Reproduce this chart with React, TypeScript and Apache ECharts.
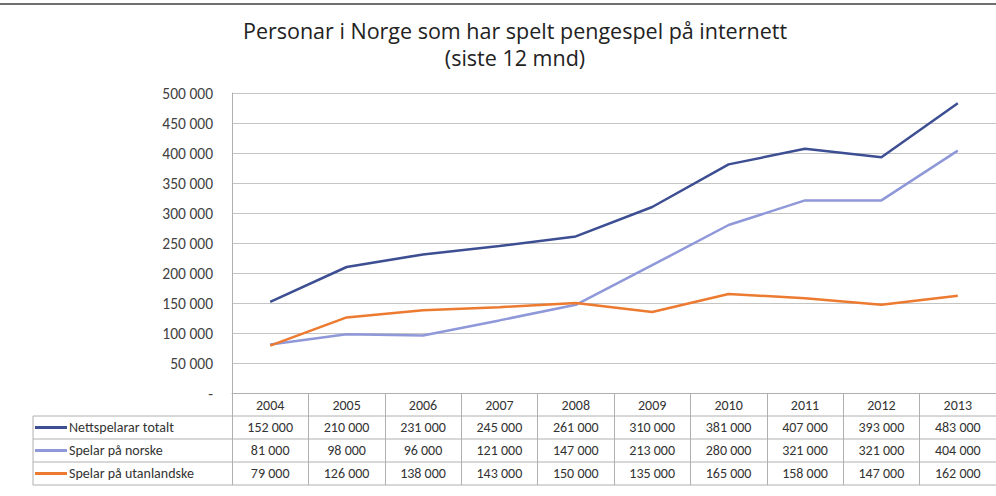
import React, { useEffect, useRef } from "react";
import * as echarts from "echarts";

const years = ["2004", "2005", "2006", "2007", "2008", "2009", "2010", "2011", "2012", "2013"];
const totalt = [152000, 210000, 231000, 245000, 261000, 310000, 381000, 407000, 393000, 483000];
const norske = [81000, 98000, 96000, 121000, 147000, 213000, 280000, 321000, 321000, 404000];
const utanlandske = [79000, 126000, 138000, 143000, 150000, 135000, 165000, 158000, 147000, 162000];
const seriesNames = ["Nettspelarar totalt", "Spelar på norske", "Spelar på utanlandske"];
const titleLines = ["Personar i Norge som har spelt pengespel på internett", "(siste 12 mnd)"];

const FONT = "Carlito, Lato, 'Liberation Sans', sans-serif";
const TITLE_FONT = "'Open Sans', Lato, sans-serif";
const COLORS = ["#3d4f92", "#8f98d8", "#ec7a30"];
const GRID_LEFT = 232;
const GRID_TOP = 93;
const GRID_W = 778;
const GRID_H = 300;
const ROW_H = 23;
const LEG_LEFT = 35;
const ICON_H = 3;
const LEG_TEXT_H = 14;

const fmt = (v: number) =>
  v === 0 ? "-" : String(v).replace(/\B(?=(\d{3})+(?!\d))/g, " ");

export default function App() {
  const ref = useRef<HTMLDivElement>(null);
  useEffect(() => {
    document.body.style.margin = "0";
    const chart = echarts.init(ref.current!, undefined, { renderer: "svg" });
    const rows = [totalt, norske, utanlandske];
    const bottom = GRID_TOP + GRID_H;
    const tableRight = GRID_LEFT + GRID_W;

    const extraAxes = rows.map((r, i) => ({
      type: "category",
      data: r.map(fmt),
      position: "bottom",
      offset: ROW_H * (i + 1),
      boundaryGap: true,
      axisLine: { show: false },
      axisTick: { show: false },
      splitLine: { show: false },
      axisLabel: {
        interval: 0,
        margin: 4,
        fontSize: 14,
        color: "#333",
        fontFamily: FONT,
      },
    }));

    const hLines = [1, 2, 3, 4].map((k) => ({
      type: "line",
      shape: { x1: LEG_LEFT - 2, y1: bottom + ROW_H * k, x2: tableRight, y2: bottom + ROW_H * k },
      style: { stroke: "#b0b0b0", lineWidth: 1 },
      silent: true,
    }));

    chart.setOption({
      animation: false,
      backgroundColor: "#fff",
      grid: { left: GRID_LEFT, top: GRID_TOP, width: GRID_W, height: GRID_H },
      xAxis: [
        {
          type: "category",
          data: years,
          position: "bottom",
          boundaryGap: true,
          axisLine: { show: true, lineStyle: { color: "#b0b0b0", width: 1 } },
          axisTick: { show: true, interval: 0, length: ROW_H * 4, lineStyle: { color: "#b0b0b0" } },
          splitLine: { show: false },
          axisLabel: { interval: 0, margin: 5, fontSize: 14, color: "#333", fontFamily: FONT },
        },
        ...extraAxes,
      ],
      yAxis: {
        type: "value",
        min: 0,
        max: 500000,
        interval: 50000,
        axisLine: { show: true, lineStyle: { color: "#b0b0b0" } },
        axisTick: { show: false },
        splitLine: { show: true, lineStyle: { color: "#c4c4c4", width: 1 } },
        axisLabel: {
          margin: 19,
          fontSize: 15.5,
          color: "#404040",
          fontFamily: FONT,
          formatter: (v: number) => fmt(v),
        },
      },
      legend: {
        orient: "vertical",
        left: LEG_LEFT,
        top: bottom + ROW_H + (ROW_H - LEG_TEXT_H) / 2,
        bottom: 0,
        padding: 0,
        icon: "rect",
        itemWidth: 32,
        itemHeight: ICON_H,
        itemGap: ROW_H - LEG_TEXT_H,
        textStyle: {
          fontSize: 14,
          lineHeight: LEG_TEXT_H,
          color: "#333",
          fontFamily: FONT,
          padding: [0, 0, 0, -3],
        },
        data: seriesNames,
      },
      series: rows.map((r, i) => ({
        name: seriesNames[i],
        type: "line",
        data: r,
        symbol: "none",
        lineStyle: { color: COLORS[i], width: 2.5 },
        itemStyle: { color: COLORS[i] },
      })),
      graphic: [
        {
          type: "line",
          shape: { x1: 0, y1: 4, x2: 996, y2: 4 },
          style: { stroke: "#6f6f6f", lineWidth: 2 },
          silent: true,
        },
        ...titleLines.map((t, i) => ({
          type: "text",
          x: 515,
          y: 30 + i * 27,
          style: {
            text: t,
            fontSize: 21.5,
            fontFamily: TITLE_FONT,
            fill: "#222",
            textAlign: "center",
            textVerticalAlign: "middle",
          },
        })),
        ...hLines,
        {
          type: "line",
          shape: { x1: LEG_LEFT - 2, y1: bottom + ROW_H, x2: LEG_LEFT - 2, y2: bottom + ROW_H * 4 },
          style: { stroke: "#b0b0b0", lineWidth: 1 },
          silent: true,
        },
      ],
    });
    return () => chart.dispose();
  }, []);
  return (
    <div
      ref={ref}
      style={{ position: "absolute", left: 0, top: 0, width: 996, height: 496 }}
    />
  );
}
